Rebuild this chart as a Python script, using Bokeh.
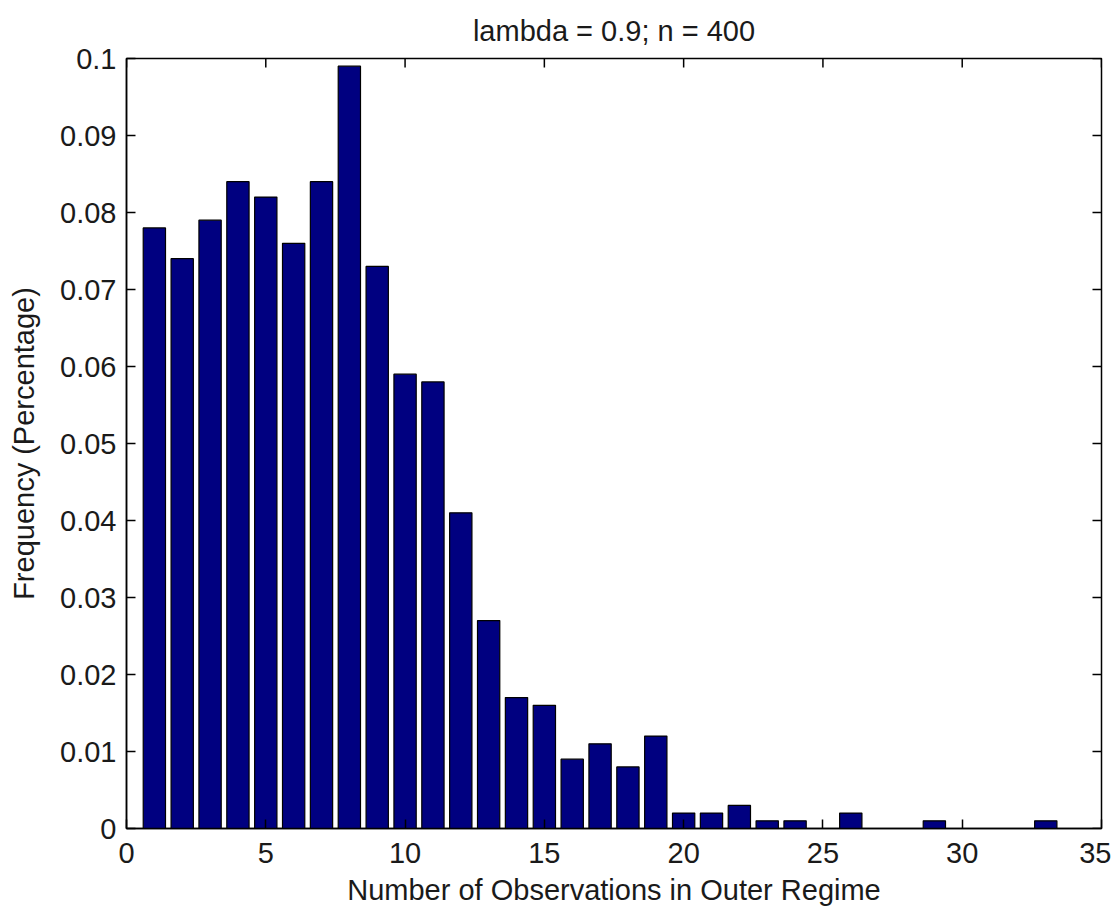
import math
from bokeh.plotting import figure
from bokeh.models import Range1d, FixedTicker
from bokeh.embed import file_html
from bokeh.resources import INLINE

# ---- data ----
counts = list(range(1, 34))
freq = [0.078, 0.074, 0.079, 0.084, 0.082, 0.076, 0.084, 0.099, 0.073, 0.059,
        0.058, 0.041, 0.027, 0.017, 0.016, 0.009, 0.011, 0.008, 0.012, 0.002,
        0.002, 0.003, 0.001, 0.001, 0.0, 0.002, 0.0, 0.0, 0.001, 0.0,
        0.0, 0.0, 0.001]
x_ticks = [0, 5, 10, 15, 20, 25, 30, 35]
y_ticks = [0, 0.01, 0.02, 0.03, 0.04, 0.05, 0.06, 0.07, 0.08, 0.09, 0.1]
y_tick_labels = ["0", "0.01", "0.02", "0.03", "0.04", "0.05", "0.06", "0.07", "0.08", "0.09", "0.1"]
title_text = "lambda = 0.9; n = 400"
x_label = "Number of Observations in Outer Regime"
y_label = "Frequency (Percentage)"
x_min, x_max = 0, 35
y_min, y_max = 0, 0.1

FONT = "Liberation Sans"
FS = "29px"
TXT = "#1a1a1a"

p = figure(frame_width=975, frame_height=770, output_backend="svg",
           toolbar_location=None, x_range=Range1d(x_min, x_max), y_range=Range1d(y_min, y_max),
           min_border_left=126, min_border_top=58, min_border_right=10, min_border_bottom=70,
           title=title_text)
p.title.align = "center"
p.title.text_font = FONT
p.title.text_font_size = FS
p.title.text_font_style = "normal"
p.title.text_color = TXT
p.title.standoff = 24

p.vbar(x=counts, top=freq, width=0.8, bottom=0, fill_color="#000080",
       line_color="black", line_width=1.2)

# mirrored inward ticks on the top and right edges (clipped to the frame)
p.scatter(x=x_ticks, y=[y_max] * len(x_ticks), marker="dash", angle=math.pi / 2,
          size=18, line_color="black", line_width=1.5)
p.scatter(x=[x_max] * len(y_ticks), y=y_ticks, marker="dash", angle=0,
          size=18, line_color="black", line_width=1.5)

p.xgrid.visible = False
p.ygrid.visible = False
p.outline_line_color = "black"
p.outline_line_width = 1.5
p.background_fill_color = "white"

def style_axis(ax, ticks):
    ax.ticker = FixedTicker(ticks=ticks)
    ax.major_tick_in = 9
    ax.major_tick_out = 0
    ax.minor_tick_in = 0
    ax.minor_tick_out = 0
    ax.major_tick_line_color = "black"
    ax.major_tick_line_width = 1.5
    ax.axis_line_color = "black"
    ax.axis_line_width = 1.5
    ax.major_label_text_font = FONT
    ax.major_label_text_font_size = FS
    ax.major_label_text_color = TXT
    ax.axis_label_text_font = FONT
    ax.axis_label_text_font_size = FS
    ax.axis_label_text_font_style = "normal"
    ax.axis_label_text_color = TXT

xa = p.xaxis[0]
style_axis(xa, x_ticks)
xa.axis_label = x_label
xa.major_label_standoff = 14
xa.axis_label_standoff = 8

ya = p.yaxis[0]
style_axis(ya, y_ticks)
ya.major_label_overrides = {t: l for t, l in zip(y_ticks, y_tick_labels)}
ya.axis_label = y_label
ya.major_label_standoff = 10
ya.axis_label_standoff = 17

open("out.html", "w").write(file_html(p, INLINE))
